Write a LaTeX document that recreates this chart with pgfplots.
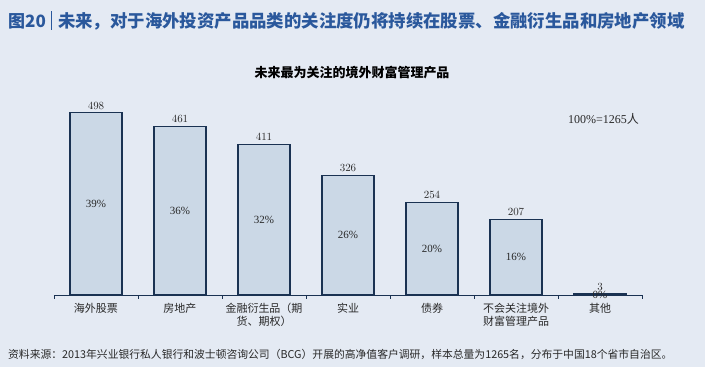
\documentclass[border=0pt]{standalone}
\usepackage{fontspec}
\usepackage{pgfplots}
\pgfplotsset{compat=1.18}
\setmainfont{Liberation Serif}
\newfontfamily\cjk{Noto Sans CJK SC}
\definecolor{bgcol}{RGB}{228,234,243}
\definecolor{barfill}{RGB}{203,216,230}
\definecolor{edgecol}{RGB}{26,50,82}
\definecolor{titleblue}{RGB}{42,88,156}
\definecolor{txt}{RGB}{40,40,40}
\begin{document}
\begin{tikzpicture}[x=1pt,y=1pt]
\fill[bgcol] (0,0) rectangle (705,367);
\useasboundingbox (0,0) rectangle (705,367);
% title
\node[anchor=west, inner sep=0pt, text=titleblue, font=\cjk\bfseries\fontsize{17}{20}\selectfont] at (8,346) {图20};
\draw[titleblue, line width=0.7pt] (51,337) -- (51,356);
\node[anchor=west, inner sep=0pt, text=titleblue, font=\cjk\bfseries\fontsize{17.4}{20}\selectfont] at (58,346) {未来，对于海外投资产品品类的关注度仍将持续在股票、金融衍生品和房地产领域};
% subtitle
\node[anchor=center, inner sep=0pt, text=black, font=\cjk\bfseries\fontsize{13}{15}\selectfont] at (352,294) {未来最为关注的境外财富管理产品};
% note
\node[anchor=west, inner sep=0pt, text=txt, font=\fontsize{12}{14}\selectfont] at (568,248) {100\%=1265{\cjk 人}};
% footer
\node[anchor=west, inner sep=0pt, text=txt, font=\cjk\fontsize{10.8}{13}\selectfont] at (8,13) {资料来源：2013年兴业银行私人银行和波士顿咨询公司（BCG）开展的高净值客户调研，样本总量为1265名，分布于中国18个省市自治区。};
\begin{axis}[
  at={(54pt,72pt)}, anchor=south west,
  scale only axis, width=588pt, height=200pt,
  xmin=-0.5, xmax=6.5, ymin=0, ymax=547,
  axis y line=none, axis x line=bottom,
  axis line style={-, draw=edgecol, line width=0.8pt},
  xtick={0,...,6},
  xticklabels={海外股票,房地产,{金融衍生品（期\\货、期权）},实业,债券,{不会关注境外\\财富管理产品},其他},
  xticklabel style={align=center, text=txt, font=\cjk\fontsize{11}{12.5}\selectfont, yshift=-5pt},
  major tick length=0pt,
  minor xtick={-0.5,0.5,...,6.5},
  minor tick length=4pt, tick align=outside,
  minor tick style={draw=edgecol, line width=0.8pt},
  clip=false,
]
\addplot[ybar, bar width=52pt, fill=barfill, draw=edgecol, line width=1.1pt,
  nodes near coords, every node near coord/.append style={text=txt, font=\fontsize{11}{12}\selectfont}]
  coordinates {(0,498) (1,461) (2,411) (3,326) (4,254) (5,207) (6,3)};
\addplot[draw=none, mark=none, nodes near coords, point meta=explicit symbolic,
  every node near coord/.append style={anchor=center, text=txt, font=\fontsize{11}{12}\selectfont}]
  coordinates {(0,249)[39\%] (1,230.5)[36\%] (2,205.5)[32\%] (3,163)[26\%] (4,127)[20\%] (5,103.5)[16\%] (6,1.5)[0\%]};
\end{axis}
\end{tikzpicture}
\end{document}
